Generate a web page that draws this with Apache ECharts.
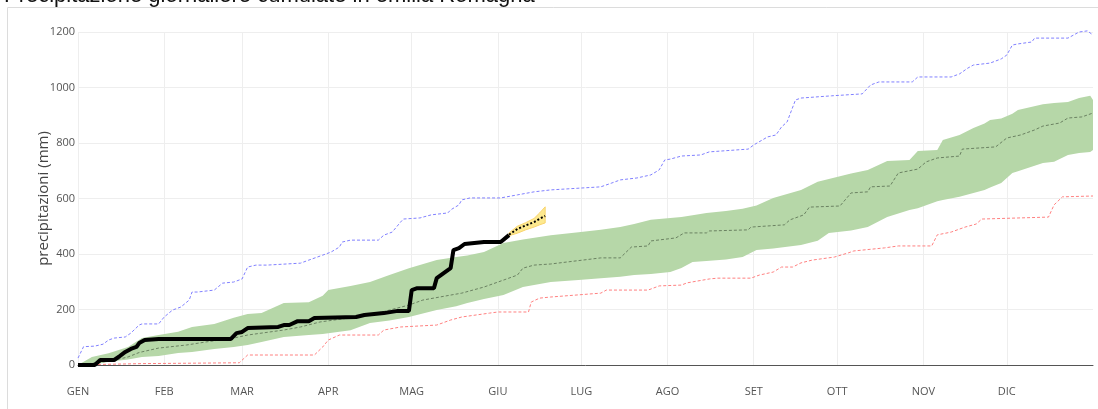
<!DOCTYPE html>
<html>
<head>
<meta charset="utf-8">
<script src="https://cdn.jsdelivr.net/npm/echarts@6/dist/echarts.min.js"></script>
<style>
  html, body { margin: 0; padding: 0; background: #fff; }
  #chart { width: 1098px; height: 409px; }
</style>
</head>
<body>
<div id="chart"></div>
<script>
// mesi (inizio di ogni mese, giorno dell'anno)
const monthStarts = [0, 31, 59, 90, 120, 151, 181, 212, 243, 273, 304, 334]
const monthLabels = ['GEN', 'FEB', 'MAR', 'APR', 'MAG', 'GIU', 'LUG', 'AGO', 'SET', 'OTT', 'NOV', 'DIC']

// massimo storico (blu)
const maxDays = [0, 2, 6, 9, 11, 13, 17, 19, 22, 23, 29, 31, 34, 37, 40, 41, 43, 49, 52, 56, 59, 61, 64, 68, 80, 83, 88, 91, 94, 95, 98, 108, 110, 113, 116, 117, 123, 127, 133, 134, 137, 138, 141, 152, 158, 164, 170, 188, 192, 195, 201, 206, 209, 211, 213, 217, 224, 227, 241, 243, 248, 251, 253, 255, 258, 260, 271, 282, 285, 288, 300, 302, 314, 317, 320, 322, 328, 332, 334, 336, 338, 343, 344, 356, 358, 360, 363, 365]
const maxVals = [25, 66, 68, 75, 90, 97, 101, 115, 144, 148, 148, 173, 198, 209, 234, 263, 263, 270, 295, 299, 310, 353, 360, 360, 367, 378, 396, 407, 425, 443, 450, 450, 468, 479, 515, 526, 530, 541, 548, 559, 577, 595, 602, 602, 613, 624, 631, 642, 656, 667, 674, 685, 703, 739, 742, 753, 757, 768, 778, 793, 822, 829, 858, 876, 955, 962, 970, 977, 1009, 1020, 1020, 1038, 1038, 1049, 1070, 1081, 1088, 1103, 1117, 1153, 1157, 1164, 1178, 1178, 1189, 1200, 1204, 1189]

// minimo storico (rosso)
const minDays = [0, 8, 23, 58, 61, 85, 88, 90, 94, 108, 110, 116, 129, 134, 138, 148, 151, 162, 163, 166, 170, 188, 190, 205, 209, 217, 219, 227, 230, 242, 245, 250, 253, 257, 260, 264, 272, 277, 279, 290, 295, 307, 309, 314, 319, 323, 325, 349, 351, 354, 365]
const minVals = [0, 2, 5, 8, 36, 36, 65, 90, 108, 108, 126, 137, 144, 162, 173, 187, 191, 191, 227, 241, 245, 259, 270, 270, 285, 288, 296, 310, 313, 313, 324, 335, 353, 353, 368, 378, 389, 404, 411, 422, 429, 429, 469, 479, 497, 508, 526, 533, 577, 606, 609]

// mediana (tratteggio verde scuro)
const medDays = [0, 12, 18, 22, 29, 39, 46, 56, 61, 74, 80, 87, 100, 105, 112, 119, 124, 134, 138, 146, 153, 158, 160, 164, 170, 188, 195, 199, 205, 206, 215, 218, 226, 227, 241, 242, 254, 256, 261, 263, 274, 278, 284, 285, 292, 295, 302, 305, 309, 317, 318, 324, 330, 334, 339, 344, 347, 353, 356, 361, 365]
const medVals = [0, 15, 29, 45, 61, 72, 83, 97, 108, 126, 137, 155, 173, 180, 198, 216, 234, 252, 259, 281, 306, 324, 349, 360, 364, 386, 386, 425, 429, 447, 458, 476, 476, 483, 487, 497, 505, 523, 541, 569, 573, 620, 624, 642, 645, 692, 706, 732, 746, 753, 778, 782, 786, 818, 829, 847, 861, 872, 890, 894, 908]

// fascia tra i percentili (verde)
const bandDays = [0, 5, 11, 18, 23, 29, 36, 41, 49, 56, 61, 66, 74, 83, 88, 90, 98, 105, 112, 119, 129, 136, 140, 146, 153, 160, 170, 180, 188, 195, 200, 206, 213, 217, 221, 226, 233, 239, 244, 250, 260, 266, 270, 278, 284, 291, 299, 302, 309, 311, 317, 322, 326, 328, 332, 336, 338, 347, 351, 356, 360, 364, 365]
const bandLow = [0, 0, 12, 20, 29, 32, 43, 47, 58, 65, 72, 83, 101, 108, 112, 114, 125, 151, 160, 173, 198, 212, 223, 238, 252, 281, 299, 306, 313, 318, 324, 328, 335, 350, 371, 375, 380, 389, 414, 420, 432, 448, 476, 485, 497, 533, 559, 565, 590, 595, 606, 620, 631, 640, 656, 692, 698, 728, 732, 757, 764, 768, 775]
const bandHigh = [0, 29, 42, 65, 97, 108, 120, 137, 148, 170, 184, 187, 223, 226, 250, 270, 285, 299, 324, 349, 378, 389, 395, 407, 440, 452, 468, 478, 487, 497, 508, 523, 530, 533, 540, 548, 555, 563, 575, 602, 631, 660, 670, 690, 703, 735, 739, 771, 775, 811, 829, 854, 870, 883, 888, 905, 919, 940, 944, 948, 962, 970, 955]

// anno corrente (nero)
const obsDays = [0, 6, 8, 13, 15, 17, 19, 21, 22, 24, 29, 55, 57, 59, 61, 72, 74, 76, 79, 83, 85, 100, 103, 110, 115, 119, 120, 122, 128, 129, 133, 134, 135, 137, 139, 146, 152, 155]
const obsVals = [0, 0, 18, 18, 32, 47, 58, 65, 79, 90, 94, 94, 115, 119, 133, 137, 144, 144, 158, 158, 169, 173, 180, 187, 195, 195, 270, 277, 277, 313, 342, 349, 414, 421, 436, 443, 443, 468]

// previsione (giallo)
const fcDays = [155, 158, 161, 164, 166, 168]
const fcMed = [470, 490, 503, 515, 527, 537]
const fcLow = [466, 475, 487, 497, 505, 512]
const fcHigh = [476, 500, 513, 528, 548, 570]

const pairs = (xs, ys) => xs.map((x, i) => [x, ys[i]])

// fascia disegnata come un unico poligono (alto -> basso a ritroso)
const bandSeries = (name, days, low, high, style) => ({
  type: 'custom',
  name: name,
  silent: true,
  data: pairs(days, high).concat(pairs(days, low)),
  encode: { x: 0, y: 1 },
  renderItem: (params, api) => {
    if (params.dataIndex !== 0) return null
    const top = days.map((d, i) => api.coord([d, high[i]]))
    const bottom = days.map((d, i) => api.coord([d, low[i]])).reverse()
    return {
      type: 'polygon',
      shape: { points: top.concat(bottom) },
      style: style
    }
  }
})

const chart = echarts.init(document.getElementById('chart'))

const lineBase = {
  type: 'line',
  symbol: 'none',
  silent: true,
  clip: false
}

chart.setOption({
  animation: false,
  title: {
    text: 'Precipitazione giornaliere cumulate in emilia Romagna',
    left: -1,
    top: -20,
    textStyle: {
      fontFamily: 'Liberation Sans',
      fontSize: 22,
      fontWeight: 'normal',
      color: '#111'
    }
  },
  graphic: [{
    type: 'rect',
    shape: { x: 7.5, y: 7.5, width: 1100, height: 410 },
    style: { fill: 'none', stroke: '#dcdcdc', lineWidth: 1 },
    silent: true
  }],
  grid: { left: 78, right: 5, top: 32, bottom: 44 },
  xAxis: {
    type: 'value',
    min: 0,
    max: 365,
    axisLine: { show: true, onZero: false, lineStyle: { color: '#555', width: 1 } },
    axisTick: { show: false, customValues: monthStarts },
    axisLabel: {
      customValues: monthStarts,
      color: '#555',
      fontFamily: 'Open Sans',
      fontSize: 11,
      margin: 21,
      formatter: (v) => monthLabels[monthStarts.indexOf(v)] || ''
    },
    splitLine: { show: true, lineStyle: { color: '#eeeeee', width: 1 } }
  },
  yAxis: {
    type: 'value',
    min: 0,
    max: 1200,
    interval: 200,
    name: 'precipitazioni (mm)',
    nameLocation: 'middle',
    nameGap: 27,
    nameMoveOverlap: false,
    nameTextStyle: { fontFamily: 'Open Sans', fontSize: 15, color: '#444' },
    axisLine: { show: false },
    axisTick: { show: false },
    axisLabel: {
      color: '#555',
      fontFamily: 'Open Sans',
      fontSize: 11,
      margin: 3,
      formatter: (v) => String(v)
    },
    splitLine: { lineStyle: { color: '#eeeeee', width: 1 } }
  },
  series: [
    bandSeries('fascia', bandDays, bandLow, bandHigh, { fill: '#b6d7a8' }),
    {
      ...lineBase,
      name: 'min',
      data: pairs(minDays, minVals),
      lineStyle: { color: '#ff8080', width: 1, type: [3, 2] }
    },
    {
      ...lineBase,
      name: 'max',
      data: pairs(maxDays, maxVals),
      lineStyle: { color: '#8080ff', width: 1, type: [3, 2] }
    },
    {
      ...lineBase,
      name: 'mediana',
      data: pairs(medDays, medVals),
      lineStyle: { color: '#6b8262', width: 1, type: [3, 2] }
    },
    bandSeries('previsione fascia', fcDays, fcLow, fcHigh, { fill: '#fde98f', stroke: '#f9d46e', lineWidth: 1 }),
    {
      ...lineBase,
      name: 'osservato',
      data: pairs(obsDays, obsVals),
      lineStyle: { color: '#000', width: 4 }
    },
    {
      ...lineBase,
      name: 'previsione',
      data: pairs(fcDays, fcMed),
      lineStyle: { color: '#000', width: 2, type: [2, 2] }
    }
  ]
})
</script>
</body>
</html>
